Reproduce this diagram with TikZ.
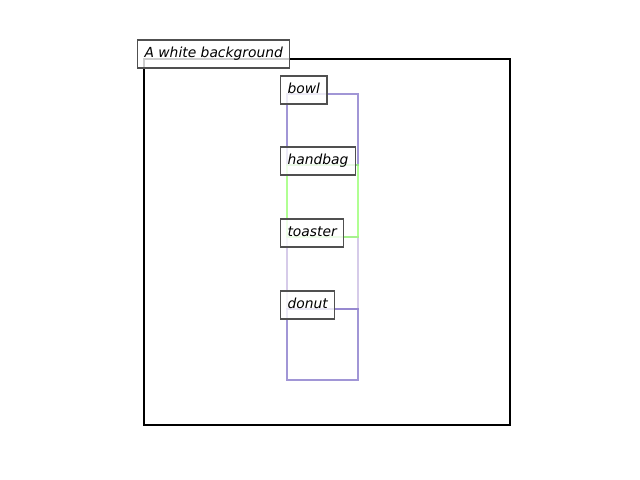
\documentclass[tikz,border=0pt]{standalone}
\usepackage{fontspec}
\setmainfont{DejaVu Sans}
\definecolor{bowlcol}{RGB}{130,115,200}
\definecolor{bagcol}{RGB}{150,255,110}
\definecolor{toastcol}{RGB}{200,185,225}
\definecolor{tagedge}{RGB}{80,80,80}
\begin{document}
\begin{tikzpicture}[x=0.01in, y=-0.01in,
        tag/.style={draw=tagedge, line width=0.8pt, fill=white, fill opacity=0.8, text opacity=1,
            anchor=west, inner xsep=0.07in, inner ysep=0pt, minimum height=0.28in,
            text height=7.5pt, text depth=2.3pt, font=\itshape\fontsize{10pt}{12pt}\selectfont},
        obj/.style={line width=1.9pt, draw opacity=0.75}]
        \useasboundingbox (0, 0) rectangle (640, 480);
        \draw [line width=1.5pt] (144, 59) rectangle (510, 425);
        \draw [obj, bowlcol] (287, 94) rectangle (358, 165);
        \draw [obj, toastcol] (287, 237) rectangle (358, 309);
        \draw [obj, bagcol] (287, 165) rectangle (358, 237);
        \draw [obj, bowlcol] (287, 309) rectangle (358, 380);
        \node [tag] (bg) at (137, 54) {A white background};
        \node [tag] (bowl) at (280, 90) {bowl};
        \node [tag] (handbag) at (280, 161) {handbag};
        \node [tag] (toaster) at (280, 233) {toaster};
        \node [tag] (donut) at (280, 305) {donut};
    \end{tikzpicture}
\end{document}
